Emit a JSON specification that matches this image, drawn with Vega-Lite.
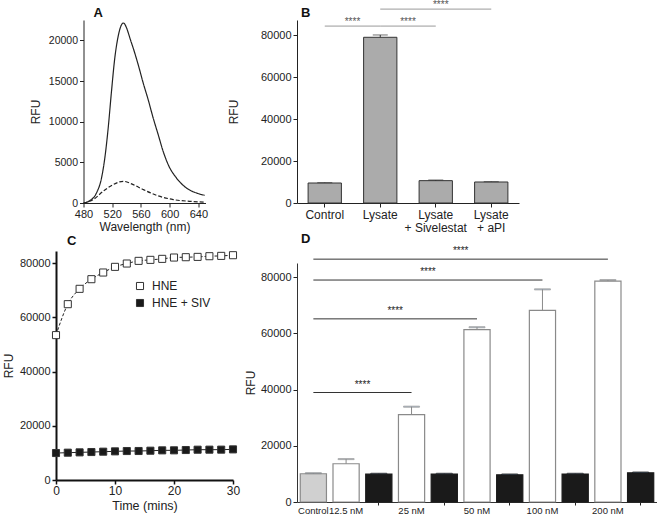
{
  "$schema": "https://vega.github.io/schema/vega-lite/v6.json",
  "padding": {"left": 2, "top": 0, "right": 0, "bottom": 0},
  "config": {
    "font": "Liberation Sans",
    "view": {"stroke": null},
    "axis": {
      "grid": false,
      "labelColor": "#222",
      "titleColor": "#222",
      "titleFontWeight": "normal",
      "titleFontSize": 12,
      "labelFontSize": 11,
      "domainColor": "#222",
      "tickColor": "#222",
      "tickSize": 4,
      "labelPadding": 2,
      "labelFlush": false,
      "labelOverlap": false
    },
    "title": {"fontSize": 13, "fontWeight": "bold", "color": "#111", "anchor": "start", "frame": "group"}
  },
  "datasets": {
    "spectra": [
      {"nm": 480, "rfu": 0, "sample": "Lysate"},
      {"nm": 488.8, "rfu": 290, "sample": "Lysate"},
      {"nm": 498.1, "rfu": 1230, "sample": "Lysate"},
      {"nm": 505.1, "rfu": 3070, "sample": "Lysate"},
      {"nm": 509.7, "rfu": 5530, "sample": "Lysate"},
      {"nm": 514.4, "rfu": 9220, "sample": "Lysate"},
      {"nm": 519, "rfu": 13730, "sample": "Lysate"},
      {"nm": 523.6, "rfu": 17820, "sample": "Lysate"},
      {"nm": 528.3, "rfu": 20490, "sample": "Lysate"},
      {"nm": 532, "rfu": 21720, "sample": "Lysate"},
      {"nm": 535.3, "rfu": 22130, "sample": "Lysate"},
      {"nm": 546.9, "rfu": 19670, "sample": "Lysate"},
      {"nm": 556.2, "rfu": 17010, "sample": "Lysate"},
      {"nm": 563.2, "rfu": 14750, "sample": "Lysate"},
      {"nm": 570.1, "rfu": 12710, "sample": "Lysate"},
      {"nm": 577.1, "rfu": 10450, "sample": "Lysate"},
      {"nm": 584.1, "rfu": 8400, "sample": "Lysate"},
      {"nm": 591, "rfu": 6350, "sample": "Lysate"},
      {"nm": 598, "rfu": 4720, "sample": "Lysate"},
      {"nm": 609.6, "rfu": 3070, "sample": "Lysate"},
      {"nm": 623.5, "rfu": 1840, "sample": "Lysate"},
      {"nm": 637.5, "rfu": 1230, "sample": "Lysate"},
      {"nm": 649, "rfu": 950, "sample": "Lysate"},
      {"nm": 480, "rfu": 0, "sample": "Control"},
      {"nm": 493.5, "rfu": 420, "sample": "Control"},
      {"nm": 507.4, "rfu": 1440, "sample": "Control"},
      {"nm": 521.3, "rfu": 2260, "sample": "Control"},
      {"nm": 535.3, "rfu": 2670, "sample": "Control"},
      {"nm": 549.2, "rfu": 2260, "sample": "Control"},
      {"nm": 563.2, "rfu": 1650, "sample": "Control"},
      {"nm": 581.7, "rfu": 950, "sample": "Control"},
      {"nm": 605, "rfu": 420, "sample": "Control"},
      {"nm": 628, "rfu": 210, "sample": "Control"},
      {"nm": 649, "rfu": 100, "sample": "Control"}
    ],
    "barsB": [
      {"condition": "Control", "rfu": 9540, "upper": 9700},
      {"condition": "Lysate", "rfu": 79050, "upper": 80160},
      {"condition": "Lysate + Sivelestat", "rfu": 10660, "upper": 10970},
      {"condition": "Lysate + aPI", "rfu": 10020, "upper": 10180}
    ],
    "sigB": [
      {"from": "Control", "to": "Lysate", "rfu": 84400, "at": "Control", "label": "****", "level": "low"},
      {"from": "Lysate", "to": "Lysate + Sivelestat", "rfu": 84400, "at": "Lysate", "label": "****", "level": "low"},
      {"from": "Lysate", "to": "Lysate + aPI", "rfu": 92500, "at": "Lysate + Sivelestat", "label": "****", "level": "high"}
    ],
    "kinetics": [
      {"t": 0, "rfu": 53460, "series": "HNE"},
      {"t": 2, "rfu": 64880, "series": "HNE"},
      {"t": 4, "rfu": 70540, "series": "HNE"},
      {"t": 6, "rfu": 74100, "series": "HNE"},
      {"t": 8, "rfu": 76560, "series": "HNE"},
      {"t": 10, "rfu": 78650, "series": "HNE"},
      {"t": 12, "rfu": 79880, "series": "HNE"},
      {"t": 14, "rfu": 80860, "series": "HNE"},
      {"t": 16, "rfu": 81230, "series": "HNE"},
      {"t": 18, "rfu": 81600, "series": "HNE"},
      {"t": 20, "rfu": 82090, "series": "HNE"},
      {"t": 22, "rfu": 82210, "series": "HNE"},
      {"t": 24, "rfu": 82330, "series": "HNE"},
      {"t": 26, "rfu": 82580, "series": "HNE"},
      {"t": 28, "rfu": 82700, "series": "HNE"},
      {"t": 30, "rfu": 82950, "series": "HNE"},
      {"t": 0, "rfu": 9950, "series": "HNE + SIV"},
      {"t": 2, "rfu": 10080, "series": "HNE + SIV"},
      {"t": 4, "rfu": 10200, "series": "HNE + SIV"},
      {"t": 6, "rfu": 10320, "series": "HNE + SIV"},
      {"t": 8, "rfu": 10450, "series": "HNE + SIV"},
      {"t": 10, "rfu": 10570, "series": "HNE + SIV"},
      {"t": 12, "rfu": 10690, "series": "HNE + SIV"},
      {"t": 14, "rfu": 10700, "series": "HNE + SIV"},
      {"t": 16, "rfu": 10810, "series": "HNE + SIV"},
      {"t": 18, "rfu": 10940, "series": "HNE + SIV"},
      {"t": 20, "rfu": 10950, "series": "HNE + SIV"},
      {"t": 22, "rfu": 11060, "series": "HNE + SIV"},
      {"t": 24, "rfu": 11180, "series": "HNE + SIV"},
      {"t": 26, "rfu": 11190, "series": "HNE + SIV"},
      {"t": 28, "rfu": 11200, "series": "HNE + SIV"},
      {"t": 30, "rfu": 11300, "series": "HNE + SIV"}
    ],
    "barsD": [
      {"treatment": "Control", "group": "Control", "rfu": 10040, "upper": 10250},
      {"treatment": "12.5 nM", "group": "HNE", "rfu": 13600, "upper": 15250},
      {"treatment": "12.5 nM + SIV", "group": "HNE + SIV", "rfu": 9930, "upper": 10050},
      {"treatment": "25 nM", "group": "HNE", "rfu": 31080, "upper": 33900},
      {"treatment": "25 nM + SIV", "group": "HNE + SIV", "rfu": 9930, "upper": 10050},
      {"treatment": "50 nM", "group": "HNE", "rfu": 61330, "upper": 62150},
      {"treatment": "50 nM + SIV", "group": "HNE + SIV", "rfu": 9690, "upper": 9800},
      {"treatment": "100 nM", "group": "HNE", "rfu": 68180, "upper": 75620},
      {"treatment": "100 nM + SIV", "group": "HNE + SIV", "rfu": 9950, "upper": 10050},
      {"treatment": "200 nM", "group": "HNE", "rfu": 78580, "upper": 78930},
      {"treatment": "200 nM + SIV", "group": "HNE + SIV", "rfu": 10400, "upper": 10500}
    ],
    "sigD": [
      {"from": "Control", "to": "25 nM", "rfu": 38940, "at": "12.5 nM", "label": "****"},
      {"from": "Control", "to": "50 nM", "rfu": 65130, "at": "12.5 nM + SIV", "label": "****"},
      {"from": "Control", "to": "100 nM", "rfu": 78940, "at": "25 nM", "label": "****"},
      {"from": "Control", "to": "200 nM", "rfu": 86370, "at": "25 nM + SIV", "label": "****"}
    ]
  },
  "align": "none",
  "spacing": -13,
  "resolve": {"scale": {"fill": "independent", "stroke": "independent", "strokeDash": "independent"}},
  "hconcat": [
    {
      "bounds": "flush",
      "center": true,
      "spacing": 48,
      "resolve": {"scale": {"fill": "independent", "stroke": "independent", "strokeDash": "independent"}},
      "vconcat": [
        {
          "width": 122,
          "height": 183,
          "title": {"text": "A", "dx": 10, "offset": 0},
          "data": {"name": "spectra"},
          "mark": {"type": "line", "color": "#222", "strokeWidth": 1.2, "interpolate": "monotone"},
          "encoding": {
            "x": {"field": "nm", "type": "quantitative", "scale": {"domain": [480, 650], "nice": false},
              "axis": {"values": [480, 520, 560, 600, 640], "format": "d", "title": "Wavelength (nm)", "labelPadding": 1, "titlePadding": 2}},
            "y": {"field": "rfu", "type": "quantitative", "scale": {"domain": [0, 22500], "nice": false},
              "axis": {"values": [0, 5000, 10000, 15000, 20000], "format": "d", "title": "RFU", "labelFontSize": 10.5, "titlePadding": 6}},
            "strokeDash": {"field": "sample", "type": "nominal", "scale": {"domain": ["Lysate", "Control"], "range": [[1, 0], [4, 2]]}, "legend": null}
          }
        },
        {
          "width": 177,
          "height": 229,
          "title": {"text": "C", "dx": 11, "offset": 2},
          "data": {"name": "kinetics"},
          "layer": [
            {
              "transform": [{"filter": "datum.series == 'HNE'"}],
              "mark": {"type": "line", "color": "#222", "strokeWidth": 1, "strokeDash": [3, 2], "interpolate": "monotone"},
              "encoding": {
                "x": {"field": "t", "type": "quantitative", "scale": {"domain": [0, 30], "nice": false},
                  "axis": {"values": [0, 10, 20, 30], "title": "Time (mins)", "labelFontSize": 12, "titleFontSize": 12.5, "domainWidth": 2, "domainColor": "#111", "tickWidth": 1.5, "tickColor": "#111", "labelPadding": 1, "titlePadding": 3}},
                "y": {"field": "rfu", "type": "quantitative", "scale": {"domain": [0, 84500], "nice": false},
                  "axis": {"values": [0, 20000, 40000, 60000, 80000], "format": "d", "title": "RFU", "domainWidth": 2, "domainColor": "#111", "tickWidth": 1.5, "tickColor": "#111", "titlePadding": 4}}
              }
            },
            {
              "transform": [{"filter": "datum.series == 'HNE + SIV'"}],
              "mark": {"type": "line", "color": "#222", "strokeWidth": 1},
              "encoding": {
                "x": {"field": "t", "type": "quantitative"},
                "y": {"field": "rfu", "type": "quantitative"}
              }
            },
            {
              "mark": {"type": "point", "shape": "square", "filled": true, "size": 50, "stroke": "#333", "strokeWidth": 1, "opacity": 1},
              "encoding": {
                "x": {"field": "t", "type": "quantitative"},
                "y": {"field": "rfu", "type": "quantitative"},
                "fill": {"field": "series", "type": "nominal", "scale": {"domain": ["HNE", "HNE + SIV"], "range": ["#ffffff", "#1a1a1a"]},
                  "legend": {"title": null, "orient": "none", "legendX": 78, "legendY": 29, "symbolType": "square", "symbolSize": 50, "symbolStrokeColor": "#333", "symbolStrokeWidth": 1, "labelFontSize": 12, "labelColor": "#222", "labelOffset": 6, "rowPadding": 5, "padding": 0}}
              }
            }
          ]
        }
      ]
    },
    {
      "bounds": "flush",
      "spacing": 60,
      "resolve": {"scale": {"fill": "independent", "stroke": "independent", "strokeDash": "independent"}},
      "vconcat": [
        {
          "width": 222,
          "height": 183,
          "title": {"text": "B", "dx": 4, "offset": -20},
          "layer": [
            {
              "data": {"name": "barsB"},
              "mark": {"type": "bar", "fill": "#ababab", "stroke": "#333", "strokeWidth": 1},
              "encoding": {
                "x": {"field": "condition", "type": "nominal", "title": null,
                  "scale": {"domain": ["Control", "Lysate", "Lysate + Sivelestat", "Lysate + aPI"], "paddingInner": 0.4, "paddingOuter": 0.2},
                  "axis": {"labelAngle": 0, "labelFontSize": 12, "labelLineHeight": 13, "labelPadding": 2,
                    "labelExpr": "indexof(datum.value, ' + ') > 0 ? ['Lysate', substring(datum.value, 7)] : datum.value"}},
                "y": {"field": "rfu", "type": "quantitative", "title": "RFU", "scale": {"domain": [0, 87300], "nice": false},
                  "axis": {"values": [0, 20000, 40000, 60000, 80000], "format": "d", "titlePadding": 20}}
              }
            },
            {
              "data": {"name": "barsB"},
              "mark": {"type": "rule", "color": "#333", "strokeWidth": 1},
              "encoding": {
                "x": {"field": "condition", "type": "nominal", "title": null, "scale": {"domain": ["Control", "Lysate", "Lysate + Sivelestat", "Lysate + aPI"]}},
                "y": {"field": "rfu", "type": "quantitative", "title": "RFU"},
                "y2": {"field": "upper"}
              }
            },
            {
              "data": {"name": "barsB"},
              "mark": {"type": "tick", "color": "#333", "size": 15, "thickness": 1},
              "encoding": {
                "x": {"field": "condition", "type": "nominal", "title": null, "scale": {"domain": ["Control", "Lysate", "Lysate + Sivelestat", "Lysate + aPI"]}},
                "y": {"field": "upper", "type": "quantitative", "title": "RFU"}
              }
            },
            {
              "data": {"name": "sigB"},
              "mark": {"type": "rule", "color": "#999", "strokeWidth": 1},
              "encoding": {
                "x": {"field": "from", "type": "nominal", "title": null, "scale": {"domain": ["Control", "Lysate", "Lysate + Sivelestat", "Lysate + aPI"]}},
                "x2": {"field": "to"},
                "y": {"field": "rfu", "type": "quantitative", "title": "RFU"}
              }
            },
            {
              "data": {"name": "sigB"},
              "transform": [{"filter": "datum.level == 'low'"}],
              "mark": {"type": "text", "dx": 27.75, "dy": -1, "baseline": "alphabetic", "fontSize": 10, "color": "#555"},
              "encoding": {
                "x": {"field": "at", "type": "nominal", "title": null, "scale": {"domain": ["Control", "Lysate", "Lysate + Sivelestat", "Lysate + aPI"]}},
                "y": {"field": "rfu", "type": "quantitative", "title": "RFU"},
                "text": {"field": "label"}
              }
            },
            {
              "data": {"name": "sigB"},
              "transform": [{"filter": "datum.level == 'high'"}],
              "mark": {"type": "text", "dx": 5, "dy": -1, "baseline": "alphabetic", "fontSize": 10, "color": "#555"},
              "encoding": {
                "x": {"field": "at", "type": "nominal", "title": null, "scale": {"domain": ["Control", "Lysate", "Lysate + Sivelestat", "Lysate + aPI"]}},
                "y": {"field": "rfu", "type": "quantitative", "title": "RFU"},
                "text": {"field": "label"}
              }
            }
          ]
        },
        {
          "width": 360,
          "height": 239,
          "title": {"text": "D", "dx": 4, "offset": 0},
          "layer": [
            {
              "data": {"name": "barsD"},
              "mark": {"type": "bar", "strokeWidth": 1.2},
              "encoding": {
                "x": {"field": "treatment", "type": "nominal", "title": null,
                  "scale": {"domain": ["Control", "12.5 nM", "12.5 nM + SIV", "25 nM", "25 nM + SIV", "50 nM", "50 nM + SIV", "100 nM", "100 nM + SIV", "200 nM", "200 nM + SIV"], "paddingInner": 0.2, "paddingOuter": 0.1},
                  "axis": {"labelAngle": 0, "labelFontSize": 9.5, "labelPadding": 0, "tickSize": 3, "domainColor": "#333",
                    "labelExpr": "indexof(datum.value, 'SIV') >= 0 ? '' : datum.value",
                    "tickOpacity": {"condition": {"test": "indexof(datum.value, 'SIV') >= 0", "value": 1}, "value": 0}}},
                "y": {"field": "rfu", "type": "quantitative", "title": "RFU", "scale": {"domain": [0, 85000], "nice": false},
                  "axis": {"values": [0, 20000, 40000, 60000, 80000], "format": "d", "titlePadding": 3, "domainColor": "#333"}},
                "fill": {"field": "group", "type": "nominal", "scale": {"domain": ["Control", "HNE", "HNE + SIV"], "range": ["#d0d0d0", "#ffffff", "#1a1a1a"]}, "legend": null},
                "stroke": {"field": "group", "type": "nominal", "scale": {"domain": ["Control", "HNE", "HNE + SIV"], "range": ["#8a8a8a", "#8a8a8a", "#1a1a1a"]}, "legend": null}
              }
            },
            {
              "data": {"name": "barsD"},
              "mark": {"type": "rule", "strokeWidth": 1},
              "encoding": {
                "x": {"field": "treatment", "type": "nominal", "title": null},
                "y": {"field": "rfu", "type": "quantitative", "title": "RFU"},
                "y2": {"field": "upper"},
                "stroke": {"field": "group", "type": "nominal", "legend": null}
              }
            },
            {
              "data": {"name": "barsD"},
              "mark": {"type": "tick", "size": 16, "thickness": 1},
              "encoding": {
                "x": {"field": "treatment", "type": "nominal", "title": null},
                "y": {"field": "upper", "type": "quantitative", "title": "RFU"},
                "stroke": {"field": "group", "type": "nominal", "legend": null}
              }
            },
            {
              "data": {"name": "sigD"},
              "mark": {"type": "rule", "color": "#333", "strokeWidth": 1},
              "encoding": {
                "x": {"field": "from", "type": "nominal", "title": null},
                "x2": {"field": "to"},
                "y": {"field": "rfu", "type": "quantitative", "title": "RFU"}
              }
            },
            {
              "data": {"name": "sigD"},
              "mark": {"type": "text", "dx": 16.4, "dy": -5, "baseline": "alphabetic", "fontSize": 10, "color": "#222"},
              "encoding": {
                "x": {"field": "at", "type": "nominal", "title": null},
                "y": {"field": "rfu", "type": "quantitative", "title": "RFU"},
                "text": {"field": "label"}
              }
            }
          ]
        }
      ]
    }
  ]
}
